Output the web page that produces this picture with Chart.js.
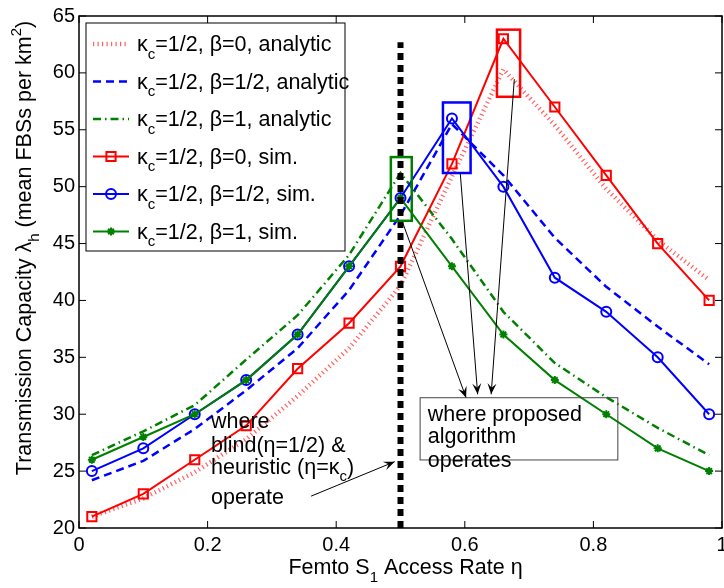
<!DOCTYPE html>
<html>
<head>
<meta charset="utf-8">
<script src="https://cdn.jsdelivr.net/npm/chart.js@4/dist/chart.umd.min.js"></script>
<style>
  html, body { margin: 0; padding: 0; background: #fff; }
  #wrap { width: 724px; height: 588px; overflow: hidden; }
</style>
</head>
<body>
<div id="wrap"><canvas id="capacityChart" width="734" height="588"></canvas></div>
<script>
// Dados
const etaValues = [0.02, 0.1, 0.18, 0.26, 0.34, 0.42, 0.5, 0.58, 0.66, 0.74, 0.82, 0.9, 0.98];
const analyticBeta0 = [21, 22.6, 24.9, 27.8, 31.6, 35.8, 41.3, 50.9, 60.3, 55.4, 49.8, 45.3, 41.8];
const analyticBetaHalf = [24.2, 25.9, 28.7, 32.1, 35.8, 40.9, 47.5, 55.5, 51, 45.5, 41.2, 37.7, 34.4];
const analyticBeta1 = [26.4, 28.5, 30.8, 34.8, 38.7, 44, 51.2, 45.4, 39, 34.5, 31.5, 28.8, 26.4];
const simBeta0 = [21, 23, 26, 29, 34, 38, 43, 52, 63, 57, 51, 45, 40];
const simBetaHalf = [25, 27, 30, 33, 37, 43, 49, 56, 50, 42, 39, 35, 30];
const simBeta1 = [26, 28, 30, 33, 37, 43, 49, 43, 37, 33, 30, 27, 25];
const xTicks = [0, 0.2, 0.4, 0.6, 0.8, 1];
const yTicks = [20, 25, 30, 35, 40, 45, 50, 55, 60, 65];
const blindEta = 0.5;
const blindLineY = [20, 62.7];
const legendLabels = ['=1/2, β=0, analytic', '=1/2, β=1/2, analytic', '=1/2, β=1, analytic',
  '=1/2, β=0, sim.', '=1/2, β=1/2, sim.', '=1/2, β=1, sim.'];

const FONT = '"Liberation Sans", Arial, sans-serif';
const RED = '#ff0000', BLUE = '#0000ff', GREEN = '#008000';

const toXY = (ys) => etaValues.map((x, i) => ({ x: x, y: ys[i] }));

// estilos das linhas (usados também na legenda)
const styles = [
  { color: 'rgba(255,30,30,0.7)', width: 4.5, dash: [1.2, 3.3] },
  { color: BLUE, width: 2.5, dash: [8, 5] },
  { color: GREEN, width: 2.5, dash: [8, 4, 1.5, 4] },
  { color: RED, width: 2, dash: [], marker: 'rect', radius: 6.5 },
  { color: BLUE, width: 2, dash: [], marker: 'circle', radius: 5 },
  { color: GREEN, width: 2, dash: [], marker: 'star', radius: 4 }
];
const seriesData = [analyticBeta0, analyticBetaHalf, analyticBeta1, simBeta0, simBetaHalf, simBeta1];
const seriesOrder = [6, 5, 4, 3, 2, 1];

const datasets = [{
  data: blindLineY.map(v => ({ x: blindEta, y: v })),
  borderColor: '#000', borderWidth: 6, borderDash: [7, 5], pointRadius: 0, order: 0
}];
seriesData.forEach((ys, i) => {
  const s = styles[i];
  datasets.push({
    data: toXY(ys),
    borderColor: s.color,
    borderWidth: s.width,
    borderDash: s.dash,
    pointStyle: s.marker || 'circle',
    pointRadius: s.marker ? s.radius : 0,
    pointBorderColor: s.color,
    pointBackgroundColor: s.marker === 'star' ? s.color : 'rgba(0,0,0,0)',
    pointBorderWidth: 2,
    tension: 0,
    order: seriesOrder[i]
  });
});

// texto com índices/expoentes
function richText(ctx, parts, x, y, size) {
  let cx = x;
  parts.forEach(([txt, kind]) => {
    const fs = kind === 'n' ? size : size * 0.7;
    const dy = kind === 'sub' ? size * 0.35 : kind === 'sup' ? -size * 0.45 : 0;
    ctx.font = fs + 'px ' + FONT;
    ctx.fillText(txt, cx, y + dy);
    cx += ctx.measureText(txt).width;
  });
  return cx - x;
}
function richWidth(ctx, parts, size) {
  let w = 0;
  parts.forEach(([txt, kind]) => {
    ctx.font = (kind === 'n' ? size : size * 0.7) + 'px ' + FONT;
    w += ctx.measureText(txt).width;
  });
  return w;
}

function arrow(ctx, x1, y1, x2, y2) {
  ctx.beginPath();
  ctx.moveTo(x1, y1);
  ctx.lineTo(x2, y2);
  ctx.stroke();
  const ang = Math.atan2(y2 - y1, x2 - x1);
  const L = 11, W = 4.5;
  ctx.save();
  ctx.translate(x2, y2);
  ctx.rotate(ang);
  ctx.beginPath();
  ctx.moveTo(0, 0);
  ctx.lineTo(-L, -W);
  ctx.lineTo(-L * 0.6, 0);
  ctx.lineTo(-L, W);
  ctx.closePath();
  ctx.fill();
  ctx.restore();
}

const annotate = {
  id: 'annotate',
  afterDraw(chart) {
    const { ctx, chartArea: a, scales: { x, y } } = chart;
    const px = (v) => x.getPixelForValue(v);
    const py = (v) => y.getPixelForValue(v);
    ctx.save();

    // moldura e marcas para dentro
    ctx.strokeStyle = '#000';
    ctx.lineWidth = 1.5;
    ctx.setLineDash([]);
    ctx.strokeRect(a.left, a.top, a.right - a.left, a.bottom - a.top);
    ctx.lineWidth = 1;
    xTicks.forEach(v => {
      ctx.beginPath();
      ctx.moveTo(px(v), a.bottom); ctx.lineTo(px(v), a.bottom - 7);
      ctx.moveTo(px(v), a.top); ctx.lineTo(px(v), a.top + 7);
      ctx.stroke();
    });
    yTicks.forEach(v => {
      ctx.beginPath();
      ctx.moveTo(a.left, py(v)); ctx.lineTo(a.left + 7, py(v));
      ctx.moveTo(a.right, py(v)); ctx.lineTo(a.right - 7, py(v));
      ctx.stroke();
    });

    // caixas em volta dos picos
    const boxes = [
      { c: GREEN, x0: 0.485, x1: 0.5175, y0: 47.0, y1: 52.6 },
      { c: BLUE, x0: 0.566, x1: 0.609, y0: 51.2, y1: 57.4 },
      { c: RED, x0: 0.650, x1: 0.686, y0: 57.9, y1: 63.8 }
    ];
    ctx.lineWidth = 2.5;
    boxes.forEach(b => {
      ctx.strokeStyle = b.c;
      ctx.strokeRect(px(b.x0), py(b.y1), px(b.x1) - px(b.x0), py(b.y0) - py(b.y1));
    });

    // setas
    ctx.strokeStyle = '#000';
    ctx.fillStyle = '#000';
    ctx.lineWidth = 1;
    [[0.503, 46.9, 0.602, 31.45], [0.593, 51.14, 0.620, 31.75],
     [0.677, 59.45, 0.641, 31.75], [0.361, 22.8, 0.491, 25.83]].forEach(s => {
      arrow(ctx, px(s[0]), py(s[1]), px(s[2]), py(s[3]));
    });

    // caixa de texto
    ctx.strokeStyle = '#444';
    ctx.lineWidth = 1;
    ctx.strokeRect(px(0.5305), py(31.45), px(0.838) - px(0.5305), py(25.98) - py(31.45));

    ctx.fillStyle = '#000';
    ctx.textBaseline = 'alphabetic';
    ctx.textAlign = 'left';
    const fs = 21.5;
    richText(ctx, [['where proposed', 'n']], px(0.5425), py(29.42), fs);
    richText(ctx, [['algorithm', 'n']], px(0.5425), py(27.43), fs);
    richText(ctx, [['operates', 'n']], px(0.5425), py(25.33), fs);
    richText(ctx, [['where', 'n']], px(0.2053), py(28.83), fs);
    richText(ctx, [['blind(η=1/2) &', 'n']], px(0.2053), py(26.64), fs);
    richText(ctx, [['heuristic (η=κ', 'n'], ['c', 'sub'], [')', 'n']], px(0.2053), py(24.78), fs);
    richText(ctx, [['operate', 'n']], px(0.2053), py(22.07), fs);

    // legenda
    const lx = a.left + 7, ly = a.top + 7, lw = 259, lh = 228;
    ctx.fillStyle = '#fff';
    ctx.fillRect(lx, ly, lw, lh);
    ctx.strokeStyle = '#000';
    ctx.lineWidth = 1;
    ctx.strokeRect(lx, ly, lw, lh);
    styles.forEach((s, i) => {
      const ry = ly + 21 + i * 37.5;
      ctx.strokeStyle = s.color;
      ctx.lineWidth = s.width;
      ctx.setLineDash(s.dash);
      ctx.beginPath();
      ctx.moveTo(lx + 7, ry); ctx.lineTo(lx + 43, ry);
      ctx.stroke();
      ctx.setLineDash([]);
      if (s.marker) {
        ctx.lineWidth = 2;
        ctx.fillStyle = s.marker === 'star' ? s.color : 'rgba(0,0,0,0)';
        Chart.helpers.drawPoint(ctx, { pointStyle: s.marker, radius: s.radius, rotation: 0, borderWidth: 2 }, lx + 25, ry);
      }
      ctx.fillStyle = '#000';
      richText(ctx, [['κ', 'n'], ['c', 'sub'], [legendLabels[i], 'n']], lx + 51, ry + 7, fs);
    });

    // títulos dos eixos
    const xt = [['Femto S', 'n'], ['1', 'sub'], [' Access Rate η', 'n']];
    const xw = richWidth(ctx, xt, fs);
    richText(ctx, xt, (a.left + a.right) / 2 + 5 - xw / 2, 574, fs);

    const yt = [['Transmission Capacity λ', 'n'], ['h', 'sub'], [' (mean FBSs per km', 'n'], ['2', 'sup'], [')', 'n']];
    const yw = richWidth(ctx, yt, fs);
    ctx.translate(31, 248);
    ctx.rotate(-Math.PI / 2);
    richText(ctx, yt, -yw / 2, 0, fs);

    ctx.restore();
  }
};

new Chart(document.getElementById('capacityChart'), {
  type: 'line',
  data: { datasets: datasets },
  options: {
    responsive: false,
    animation: false,
    layout: { padding: { top: 13, right: 12, left: 0, bottom: 0 } },
    plugins: { legend: { display: false }, tooltip: { enabled: false } },
    scales: {
      x: {
        type: 'linear', min: 0, max: 1,
        afterBuildTicks: (s) => { s.ticks = xTicks.map(v => ({ value: v })); },
        afterFit: (s) => { s.height = 60; },
        grid: { display: false, drawTicks: false },
        border: { display: false },
        ticks: { color: '#000', font: { family: FONT, size: 20 }, padding: 5, maxRotation: 0, callback: (v) => String(v) }
      },
      y: {
        type: 'linear', min: 20, max: 65,
        afterBuildTicks: (s) => { s.ticks = yTicks.map(v => ({ value: v })); },
        afterFit: (s) => { s.width = 79; },
        grid: { display: false, drawTicks: false },
        border: { display: false },
        ticks: { color: '#000', font: { family: FONT, size: 20 }, padding: 4, callback: (v) => String(v) }
      }
    }
  },
  plugins: [annotate]
});
</script>
</body>
</html>
